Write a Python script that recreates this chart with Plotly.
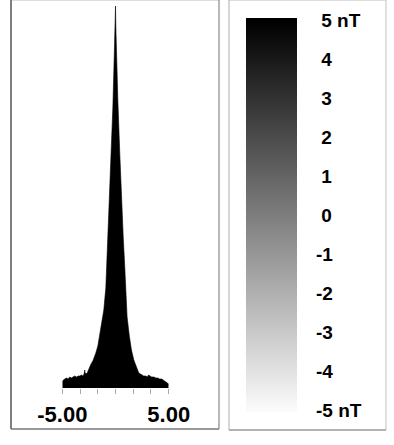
import plotly.graph_objects as go

W, H = 394, 445

# ---- histogram profile (value in nT, relative count) ----
hist_x = [-5.00, -4.90, -4.77, -4.60, -4.45, -4.30, -4.15, -4.00, -3.83, -3.65,
          -3.50, -3.36, -3.20, -3.07, -2.95, -2.89, -2.84, -2.79, -2.70, -2.60,
          -2.50, -2.42, -2.30, -2.13, -2.00, -1.85, -1.66, -1.48, -1.38, -1.29,
          -1.20, -1.10, -0.91, -0.82, -0.72, -0.54, -0.39, -0.25, -0.11, -0.04,
          0.00, 0.03, 0.08, 0.22, 0.40, 0.56, 0.73, 0.87, 1.09, 1.30,
          1.50, 1.72, 1.97, 2.10, 2.19, 2.35, 2.47, 2.65, 2.85, 3.00,
          3.10, 3.23, 3.40, 3.60, 3.80, 3.98, 4.15, 4.35, 4.50, 4.64,
          4.80, 5.00]
hist_y = [6, 8, 9, 10, 9, 11, 10, 11, 12, 11,
          12, 12, 13, 12, 14, 18, 14, 15, 14, 17,
          19, 22, 24, 27, 30, 35, 42, 55, 60, 66,
          72, 78, 100, 125, 150, 190, 230, 280, 335, 360,
          382, 362, 340, 288, 235, 188, 150, 121, 71, 52,
          38, 28, 21, 17, 15, 14, 13, 12, 12, 11,
          13, 12, 11, 11, 10, 10, 9, 9, 8, 7,
          6, 4]
assert len(hist_x) == len(hist_y)

axis_tickvals = [-5.00, -3.33, -1.67, 0.00, 1.67, 3.33, 5.00]
axis_ticktext = ["-5.00", "", "", "", "", "", "5.00"]

# ---- colour scale legend ----
scale_levels = [-5, -4, -3, -2, -1, 0, 1, 2, 3, 4, 5]
scale_labels = ["-5 nT", "-4", "-3", "-2", "-1", "\u00a00", "\u00a01", "\u00a02",
                "\u00a03", "\u00a04", "\u00a05 nT"]

FONT = "Arial, Liberation Sans, sans-serif"


def px_x(p):
    return p / W


def px_y(p):
    return 1 - p / H


fig = go.Figure()

fig.add_trace(go.Scatter(
    x=hist_x, y=hist_y, mode="lines", fill="tozeroy",
    line=dict(color="#000000", width=0.6), fillcolor="#000000",
    xaxis="x", yaxis="y", hoverinfo="skip", showlegend=False))

fig.add_trace(go.Heatmap(
    z=[[v, v] for v in scale_levels], x=[0, 1], y=scale_levels,
    zmin=-5, zmax=5, zsmooth="best",
    colorscale=[[0, "#fbfbfb"], [1, "#000000"]],
    showscale=False, hoverinfo="skip", xaxis="x2", yaxis="y2"))

# panel frames
shapes = []


def seg(x0, y0, x1, y1, color, width):
    shapes.append(dict(type="line", xref="paper", yref="paper",
                       x0=px_x(x0), y0=px_y(y0), x1=px_x(x1), y1=px_y(y1),
                       line=dict(color=color, width=width)))


# left panel
seg(11, 0.5, 219, 0.5, "#dddddd", 1)
seg(11, 0, 11, 429, "#555555", 1.5)
seg(219, 0, 219, 429, "#888888", 1.2)
seg(11, 429, 219, 429, "#777777", 1.5)
# right panel
seg(229, 0.5, 386, 0.5, "#dddddd", 1)
seg(229, 0, 229, 430, "#bbbbbb", 1.2)
seg(386, 0, 386, 430, "#cccccc", 1.2)
seg(229, 430, 386, 430, "#999999", 1.5)

fig.update_layout(
    width=W, height=H, margin=dict(l=0, r=0, t=0, b=0, pad=0, autoexpand=False),
    paper_bgcolor="white", plot_bgcolor="white",
    shapes=shapes,
    xaxis=dict(domain=[px_x(62.3), px_x(168.7)], range=[-5, 5],
               tickvals=axis_tickvals, ticktext=axis_ticktext,
               ticks="outside", ticklen=5, tickwidth=1, tickcolor="#aaaaaa",
               showgrid=False, zeroline=False, showline=False,
               ticklabelstandoff=2, automargin=False,
               tickfont=dict(family=FONT, size=22, color="#000000", weight="bold"),
               anchor="y", fixedrange=True),
    yaxis=dict(domain=[px_y(388), px_y(5)], range=[0, 383], visible=False,
               anchor="x", fixedrange=True, automargin=False),
    xaxis2=dict(domain=[px_x(246), px_x(297)], range=[-0.5, 1.5], visible=False,
                anchor="y2", fixedrange=True, automargin=False),
    yaxis2=dict(domain=[px_y(412), px_y(18)], range=[-5.05, 5.05],
                tickvals=scale_levels, ticktext=scale_labels,
                side="right", anchor="x2", ticks="", showgrid=False,
                zeroline=False, showline=False, ticklabelstandoff=18,
                automargin=False,
                tickfont=dict(family=FONT, size=19, color="#000000", weight="bold"),
                fixedrange=True),
)

fig.write_html("out.html")
